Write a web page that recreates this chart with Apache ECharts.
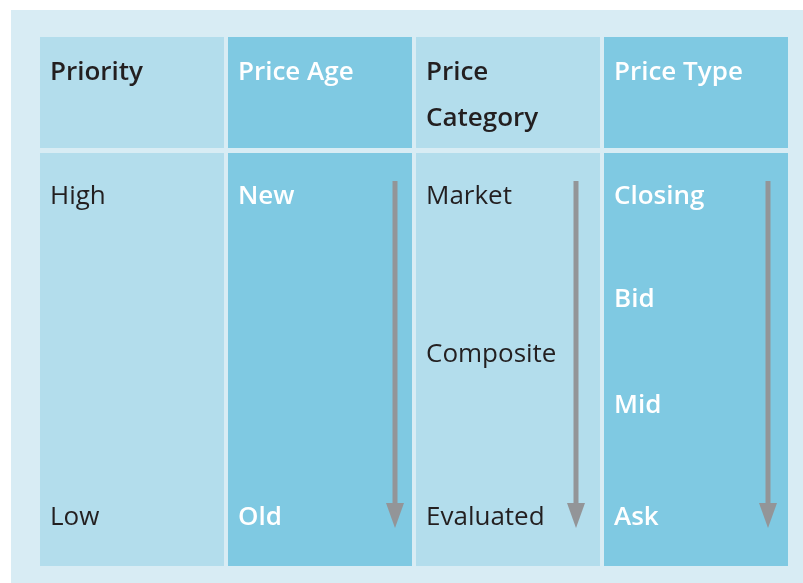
<!DOCTYPE html>
<html>
<head>
<meta charset="utf-8">
<script src="https://cdn.jsdelivr.net/npm/echarts@6/dist/echarts.min.js"></script>
<style>
html,body{margin:0;padding:0;background:#ffffff;}
#chart{width:803px;height:583px;}
</style>
</head>
<body>
<div id="chart"></div>
<script>
// ---- data ----
const columns = ['Priority', 'Price Age', 'Price Category', 'Price Type'];
const headerLines = [['Priority'], ['Price Age'], ['Price', 'Category'], ['Price Type']];
const columnItems = [
  ['High', 'Low'],
  ['New', 'Old'],
  ['Market', 'Composite', 'Evaluated'],
  ['Closing', 'Bid', 'Mid', 'Ask']
];
// relative rank position of each item (0 = top / highest priority, 1 = bottom)
const columnLevels = [
  [0, 1],
  [0, 1],
  [0, 0.49, 1],
  [0, 0.32, 0.65, 1]
];
const columnHasArrow = [false, true, true, true];
const columnShade = ['light', 'dark', 'light', 'dark'];

// ---- styling / layout ----
const FONT = '"Open Sans", Roboto, sans-serif';
const shades = {
  light: { fill: '#b3ddec', text: '#231f20', headWeight: 600, bodyWeight: 400 },
  dark:  { fill: '#7fc9e2', text: '#ffffff', headWeight: 600, bodyWeight: 600 }
};
const arrowInset = [0, 17, 24, 20];

const chart = echarts.init(document.getElementById('chart'), null, { renderer: 'canvas' });

function renderItem(params, api) {
  const i = api.value(0);
  const cs = params.coordSys;
  const cx = api.coord([i, 0])[0];
  const band = api.size([1, 0])[0];
  const gap = 4;
  const left = cx - band / 2;
  const w = band - gap;
  const headTop = cs.y;
  const headH = 111;
  const bodyTop = headTop + headH + 5;
  const bodyBottom = cs.y + cs.height;
  const shade = shades[columnShade[i]];
  const children = [];
  children.push({ type: 'rect', shape: { x: left, y: headTop, width: w, height: headH }, style: { fill: shade.fill } });
  children.push({ type: 'rect', shape: { x: left, y: bodyTop, width: w, height: bodyBottom - bodyTop }, style: { fill: shade.fill } });
  headerLines[i].forEach(function (line, k) {
    children.push({ type: 'text', style: {
      text: line, x: left + 10, y: headTop + 36 + k * 46,
      fill: shade.text, fontSize: 26, fontFamily: FONT, fontWeight: shade.headWeight,
      verticalAlign: 'middle', align: 'left'
    }});
  });
  const y0 = bodyTop + 44, y1 = bodyBottom - 48;
  columnItems[i].forEach(function (label, k) {
    const lv = columnLevels[i][k];
    children.push({ type: 'text', style: {
      text: label, x: left + 10, y: y0 + lv * (y1 - y0),
      fill: shade.text, fontSize: 26, fontFamily: FONT, fontWeight: shade.bodyWeight,
      verticalAlign: 'middle', align: 'left'
    }});
  });
  if (columnHasArrow[i]) {
    const ax = left + w - arrowInset[i];
    const top = bodyTop + 28;
    const tip = bodyBottom - 38;
    const headLen = 25;
    children.push({ type: 'rect', shape: { x: ax - 2.5, y: top, width: 5, height: tip - headLen - top + 2 }, style: { fill: '#939598' } });
    children.push({ type: 'polygon', shape: { points: [[ax - 9, tip - headLen], [ax + 9, tip - headLen], [ax, tip]] }, style: { fill: '#939598' } });
  }
  return { type: 'group', children: children };
}

chart.setOption({
  backgroundColor: '#ffffff',
  animation: false,
  graphic: [{
    type: 'rect', left: 11, top: 10, z: -10,
    shape: { width: 792, height: 573 },
    style: { fill: '#d8ecf4' }
  }],
  grid: { left: 40, right: 11, top: 37, bottom: 17 },
  xAxis: { type: 'category', data: columns, show: false, boundaryGap: true },
  yAxis: { type: 'value', min: 0, max: 1, show: false },
  series: [{
    type: 'custom',
    renderItem: renderItem,
    data: columns.map(function (c, i) { return [i, 0]; }),
    encode: { x: 0, y: 1 },
    clip: false
  }]
});
</script>
</body>
</html>
